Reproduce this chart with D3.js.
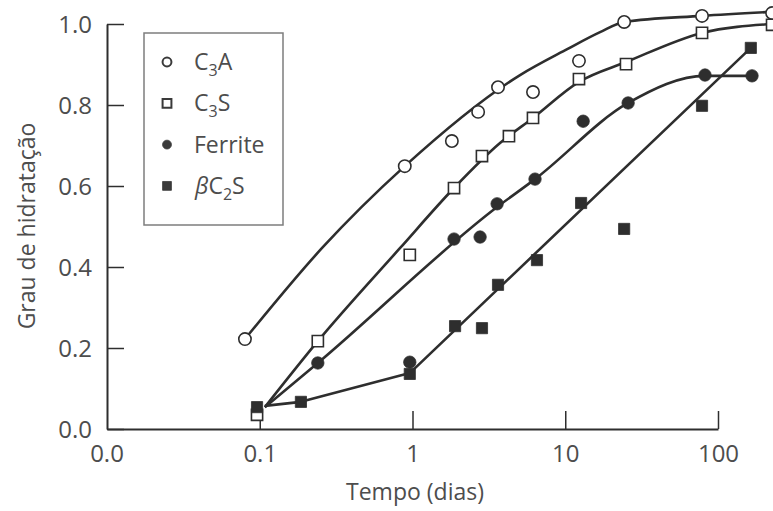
<!DOCTYPE html>
<html><head><meta charset="utf-8">
<script src="https://cdn.jsdelivr.net/npm/d3@7"></script>
<style>
body{margin:0;background:#fff}
svg{display:block}
text{font-family:'Open Sans',sans-serif;fill:#4d4d4d}
</style>
</head><body>
<svg id="chart" width="773" height="511"></svg>
<script>
// ---- data ----
const xTickValues = [0.01, 0.1, 1, 10, 100];
const xTickLabels = ["0.0", "0.1", "1", "10", "100"];
const yTickValues = [0, 0.2, 0.4, 0.6, 0.8, 1.0];
const xTitle = "Tempo (dias)";
const yTitle = "Grau de hidratação";
const seriesNames = ["C3A", "C3S", "Ferrite", "βC2S"];

const c3aPoints = [[0.08,0.222],[0.89,0.649],[1.81,0.711],[2.69,0.783],[3.63,0.844],[6.15,0.832],[12.3,0.909],[24.3,1.005],[78.6,1.020],[226,1.027]];
const c3sPoints = [[0.096,0.035],[0.24,0.217],[0.96,0.430],[1.87,0.595],[2.85,0.674],[4.28,0.723],[6.15,0.768],[12.3,0.864],[25.0,0.901],[78.6,0.978],[226,0.998]];
const ferritePoints = [[0.24,0.163],[0.96,0.165],[1.87,0.469],[2.77,0.474],[3.58,0.556],[6.34,0.617],[13.1,0.760],[25.8,0.805],[82.2,0.874],[167,0.872]];
const c2sPoints = [[0.096,0.054],[0.186,0.067],[0.96,0.136],[1.90,0.254],[2.85,0.249],[3.63,0.356],[6.53,0.417],[12.7,0.558],[24.3,0.494],[78.6,0.798],[164,0.941]];

// fitted curves drawn through the points
const c3aFit = [[0.08,0.222],[0.256,0.447],[0.89,0.649],[5.06,0.874],[10.3,0.938],[16.9,0.980],[24.3,1.005],[78.6,1.020],[226,1.030]];
const c3sFit = [[0.108,0.054],[0.24,0.217],[0.83,0.447],[1.87,0.595],[3.74,0.706],[6.15,0.768],[12.3,0.857],[25.0,0.906],[78.6,0.978],[226,1.000]];
const ferriteFit = [[0.108,0.054],[0.24,0.163],[3.58,0.548],[6.34,0.617],[25.8,0.805],[82.2,0.872],[167,0.872]];
const c2sFit = [[0.108,0.057],[0.186,0.067],[0.96,0.138],[164,0.941]];

// ---- layout ----
const svg = d3.select("#chart");
const ink = "#2e2e2e";
const x = d3.scaleLog().domain([0.01, 100]).range([107, 718]);
const y = d3.scaleLinear().domain([0, 1]).range([429, 24]);

const series = [
  {name: seriesNames[0], pts: c3aPoints, fit: c3aFit, shape: d3.symbolCircle, filled: false, curve: d3.curveMonotoneX},
  {name: seriesNames[1], pts: c3sPoints, fit: c3sFit, shape: d3.symbolSquare, filled: false, curve: d3.curveMonotoneX},
  {name: seriesNames[2], pts: ferritePoints, fit: ferriteFit, shape: d3.symbolCircle, filled: true, curve: d3.curveMonotoneX},
  {name: seriesNames[3], pts: c2sPoints, fit: c2sFit, shape: d3.symbolSquare, filled: true, curve: d3.curveLinear}
];

// axes
const xAxis = d3.axisBottom(x).tickValues(xTickValues.slice(1))
  .tickFormat((d) => xTickLabels[xTickValues.indexOf(d)])
  .tickSizeInner(-18).tickSizeOuter(0).tickPadding(16);
const gx = svg.append("g").attr("transform", `translate(0,${y(0)})`).call(xAxis);
gx.append("text").attr("x", x(0.01)).attr("y", 16).attr("dy", "0.71em")
  .attr("text-anchor", "middle").text(xTickLabels[0]);
const yAxis = d3.axisLeft(y).tickValues(yTickValues).tickFormat(d3.format(".1f"))
  .tickSizeInner(-17).tickSizeOuter(0).tickPadding(15);
const gy = svg.append("g").attr("transform", `translate(${x(0.01)},0)`).call(yAxis);

[gx, gy].forEach((g) => {
  g.select(".domain").attr("stroke", ink).attr("stroke-width", 2);
  g.selectAll(".tick line").attr("stroke", ink).attr("stroke-width", 1.5);
  g.selectAll("text").attr("fill", "#4d4d4d").attr("font-size", 24)
    .attr("font-family", "'Open Sans',sans-serif");
});
gy.selectAll(".tick text").attr("dy", "0.34em");

// titles
svg.append("text").attr("x", 415).attr("y", 500).attr("text-anchor", "middle")
  .attr("font-size", 23).text(xTitle);
svg.append("text").attr("transform", "translate(35,226) rotate(-90)")
  .attr("text-anchor", "middle").attr("font-size", 23).text(yTitle);

// lines
series.forEach((s) => {
  svg.append("path").datum(s.fit)
    .attr("d", d3.line().x((d) => x(d[0])).y((d) => y(d[1])).curve(s.curve))
    .attr("fill", "none").attr("stroke", ink).attr("stroke-width", 2.6)
    .attr("stroke-linejoin", "round");
});

// markers
series.forEach((s) => {
  const sym = d3.symbol().type(s.shape).size(s.shape === d3.symbolCircle ? 120 : 125);
  svg.append("g").selectAll("path").data(s.pts).join("path")
    .attr("transform", (d) => `translate(${x(d[0])},${y(d[1])})`)
    .attr("d", sym)
    .attr("fill", s.filled ? ink : "#fff")
    .attr("stroke", ink).attr("stroke-width", s.filled ? 0.8 : 1.6);
});

// legend
const lg = svg.append("g");
lg.append("rect").attr("x", 144).attr("y", 33).attr("width", 139).attr("height", 192)
  .attr("fill", "#fff").attr("stroke", "#7d7d7d").attr("stroke-width", 1.5);
series.forEach((s, i) => {
  const cy = 62 + i * 41.3;
  const sym = d3.symbol().type(s.shape).size(s.shape === d3.symbolCircle ? 62 : 78);
  lg.append("path").attr("transform", `translate(167,${cy})`).attr("d", sym)
    .attr("fill", s.filled ? "#3a3a3a" : "#fff").attr("stroke", "#3a3a3a")
    .attr("stroke-width", s.filled ? 0.8 : 2);
  const t = lg.append("text").attr("x", 194).attr("y", cy + 8).attr("font-size", 23);
  const parts = s.name.match(/β|\d|[^\dβ]+/g);
  let shifted = false;
  parts.forEach((p) => {
    if (/\d/.test(p)) {
      t.append("tspan").attr("dy", 6).attr("font-size", 16).text(p);
      shifted = true;
    } else {
      const ts = t.append("tspan").text(p);
      if (shifted) { ts.attr("dy", -6); shifted = false; }
      if (p === "β") ts.attr("font-style", "italic").attr("dx", 1);
    }
  });
});
</script>
</body></html>
